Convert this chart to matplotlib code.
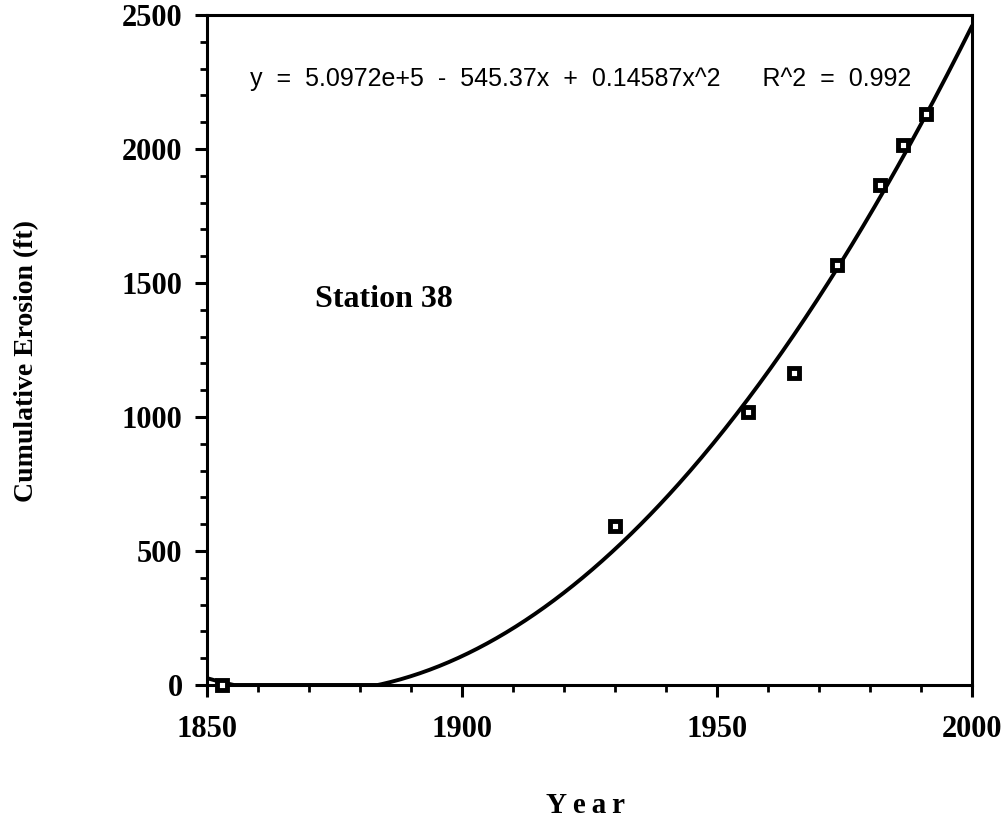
import numpy as np
import matplotlib
matplotlib.use("Agg")
import matplotlib.pyplot as plt
from matplotlib.ticker import MultipleLocator

# =========================
# Data
# =========================
years = [1853, 1930, 1956, 1965, 1973.5, 1982, 1986.5, 1991]
erosion = [0, 594, 1017, 1165, 1567, 1866, 2015, 2129]

# quadratic fit coefficients as printed on the chart
fit_c0 = 5.0972e5
fit_c1 = -545.37
fit_c2 = 0.14587
fit_r2 = 0.992

x_ticks = [1850, 1900, 1950, 2000]
y_ticks = [0, 500, 1000, 1500, 2000, 2500]

# =========================
# Figure
# =========================
fig = plt.figure(figsize=(10.08, 8.23), dpi=100)
ax = fig.add_axes([0.2054, 0.1677, 0.759, 0.8141])

serif = ["Liberation Serif", "DejaVu Serif"]
sans = ["Liberation Sans", "DejaVu Sans"]

# fitted curve (clipped at zero like the original plot)
xf = np.linspace(1850, 2000, 400)
yf = fit_c0 + fit_c1 * xf + fit_c2 * xf ** 2
yf = np.clip(yf, 0, None)
ax.plot(xf, yf, color="black", lw=2.8, solid_capstyle="round", zorder=2)

# data points: black squares with a small white hole
ax.plot(years, erosion, linestyle="none", marker="s", markersize=6.5,
        markerfacecolor="white", markeredgecolor="black",
        markeredgewidth=3.5, zorder=3, clip_on=False)

ax.set_xlim(1850, 2000)
ax.set_ylim(0, 2500)
ax.set_xticks(x_ticks)
ax.set_yticks(y_ticks)
ax.xaxis.set_minor_locator(MultipleLocator(10))
ax.yaxis.set_minor_locator(MultipleLocator(100))

for s in ax.spines.values():
    s.set_linewidth(2.2)

ax.tick_params(axis="both", which="major", direction="out", length=8.6,
               width=2.2)
ax.tick_params(axis="x", which="major", pad=13)
ax.tick_params(axis="y", which="major", pad=9)
ax.tick_params(axis="both", which="minor", direction="out", length=5,
               width=2.0)

for lab in ax.get_xticklabels() + ax.get_yticklabels():
    lab.set_fontfamily(serif)
    lab.set_fontweight("bold")
    lab.set_fontsize(22)

ax.set_xlabel("Y\u2009e\u2009a\u2009r", fontfamily=serif, fontweight="bold",
              fontsize=21)
ax.set_ylabel("Cumulative Erosion (ft)", fontfamily=serif, fontweight="bold",
              fontsize=20)
ax.xaxis.set_label_coords(0.495, -0.16)
ax.yaxis.set_label_coords(-0.22, 0.484)

eq = (f"y  =  {fit_c0:.4e}".replace("e+05", "e+5")
      + f"  -  {-fit_c1}x  +  {fit_c2}x^2      R^2  =  {fit_r2}")
ax.text(1858.4, 2262, eq, fontfamily=sans, fontsize=18, ha="left",
        va="center")
ax.text(1871.2, 1437, "Station 38", fontfamily=serif, fontweight="bold",
        fontsize=23, ha="left", va="center")

fig.savefig("out.png", dpi=100, facecolor="white")
